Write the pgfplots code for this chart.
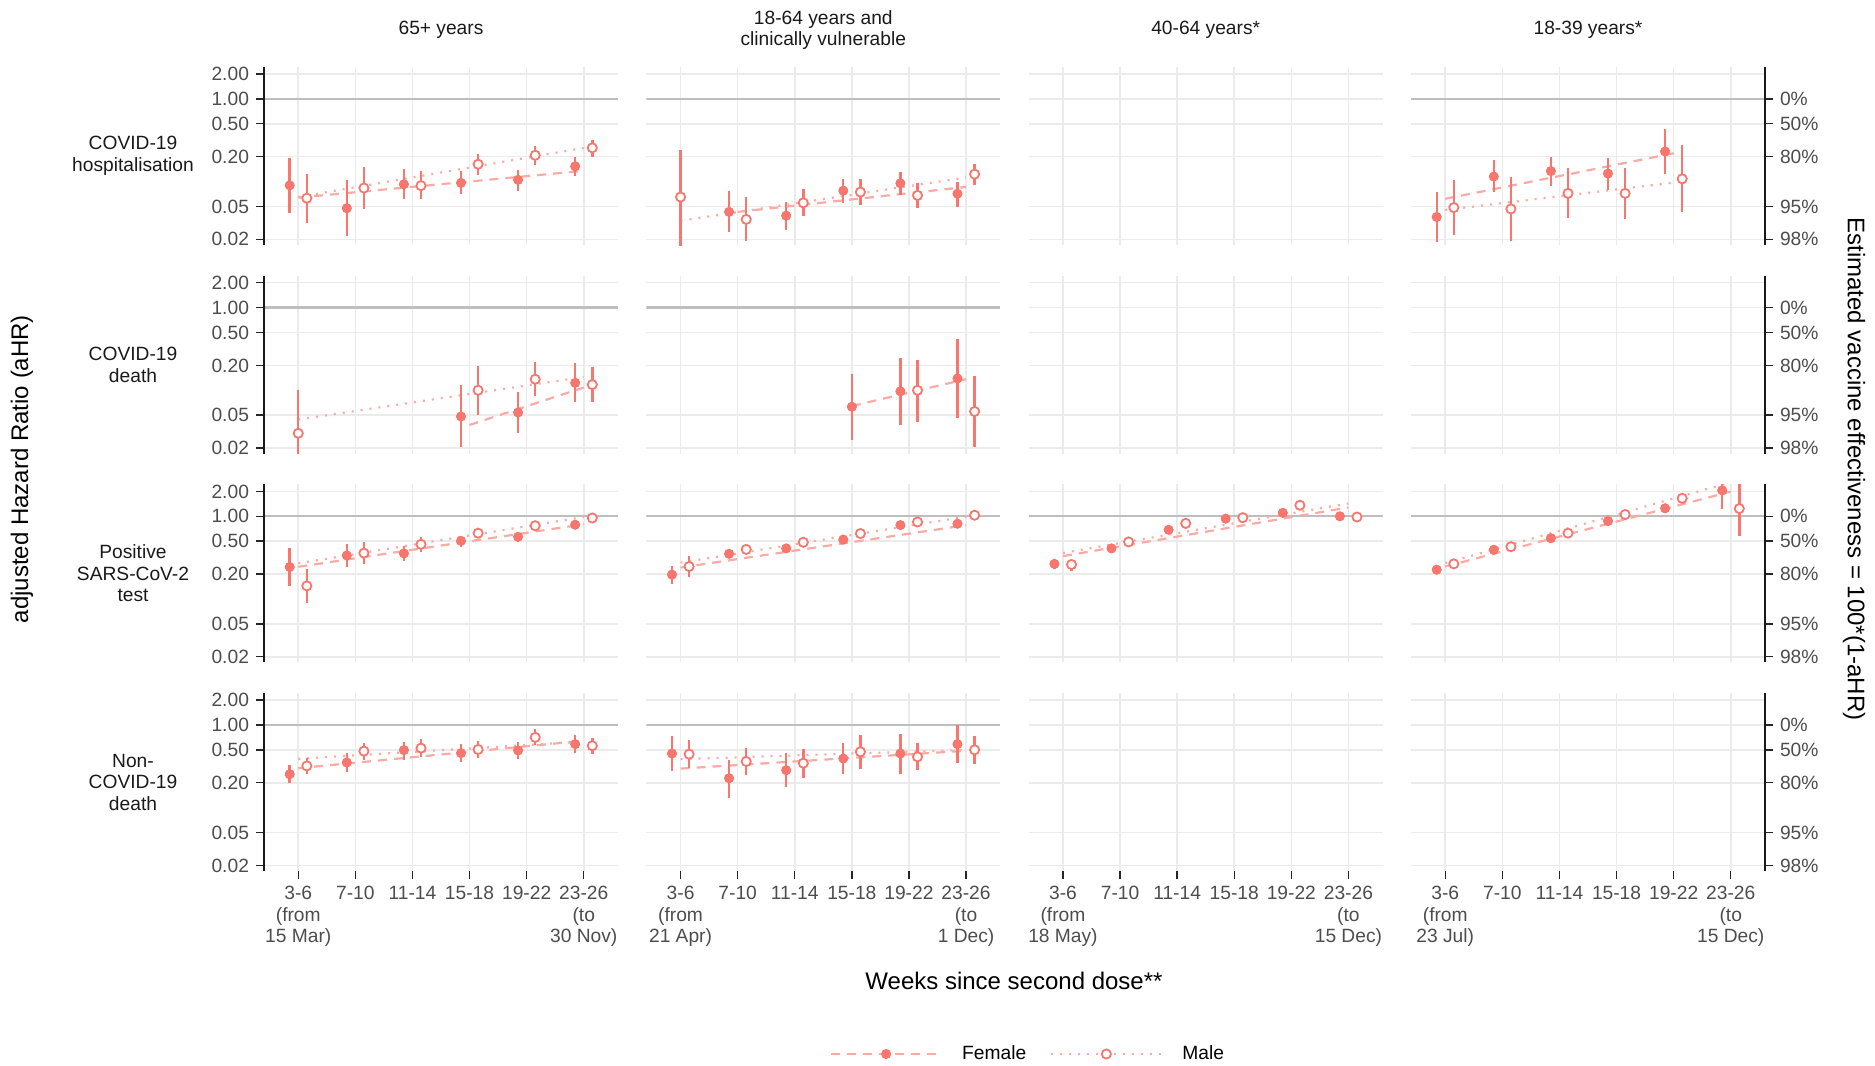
\documentclass[border=0pt]{standalone}
\usepackage{fontspec}
\setmainfont{Liberation Sans}
\usepackage{pgfplots}
\pgfplotsset{compat=1.18}
\usepackage{pgfplotstable}

\definecolor{ptc}{HTML}{F8766D}
\definecolor{gridc}{HTML}{EBEBEB}
\definecolor{hlc}{HTML}{BEBEBE}
\definecolor{tickc}{HTML}{4D4D4D}
\definecolor{stripc}{HTML}{1A1A1A}
\colorlet{trc}{ptc!62!white}

\newcommand{\fsmall}{\fontsize{9.6}{10.8}\selectfont}
\newcommand{\flarge}{\fontsize{12}{14}\selectfont}

\tikzset{
  trF/.style={trc, line width=1.1pt, dash pattern=on 4.5pt off 3.5pt},
  trM/.style={trc, line width=1.1pt, dash pattern=on 1pt off 3.5pt},
  hrline/.style={hlc, line width=1.1pt},
}

% the y axis is log10(aHR) on a linear scale
\pgfplotsset{
  panel/.style={
    scale only axis, width=177pt, height=89pt, anchor=north west,
    xmin=0.4, xmax=6.6, ymin=-1.767, ymax=0.3856,
    xtick={1,...,6}, ytick={-1.69897,-1.30103,-0.69897,-0.30103,0,0.30103},
    xticklabels={}, yticklabels={},
    grid=major, major grid style={line width=0.8pt, draw=gridc},
    axis line style={draw=none},
    xtick pos=bottom, ytick pos=left,
    major x tick style={draw=none}, major y tick style={draw=none},
    tick align=outside, major tick length=4pt,
    tick label style={font=\fsmall, text=tickc},
  },
  leftcol/.style={
    yticklabels={0.02,0.05,0.20,0.50,1.00,2.00},
    major y tick style={draw=black!85, line width=0.7pt},
    after end axis/.append code={\draw[black!90, line width=1.1pt] (rel axis cs:0,0) -- (rel axis cs:0,1);},
  },
  rightcol/.style={
    ytick={-1.69897,-1.30103,-0.69897,-0.30103,0},
    yticklabels={98\%,95\%,80\%,50\%,0\%},
    ytick pos=right, yticklabel pos=right,
    major y tick style={draw=black!85, line width=0.7pt},
    after end axis/.append code={\draw[black!90, line width=1.1pt] (rel axis cs:1,0) -- (rel axis cs:1,1);},
  },
  bottomrow/.style={
    major x tick style={draw=black!85, line width=0.7pt},
    xticklabel style={align=center},
  },
  fpt/.style={mark options={draw=ptc, fill=ptc}},
  mpt/.style={mark options={draw=ptc, fill=white, line width=0.9pt}},
}

\newcommand{\ser}[2]{%
  \addplot[only marks, mark=none, forget plot,
    error bars/.cd, y dir=both, y explicit, error mark=none,
    error bar style={ptc, line width=1.2pt}]
    table[x=x, y expr=log10(\thisrow{y}),
      y error plus expr=log10(\thisrow{hi})-log10(\thisrow{y}),
      y error minus expr=log10(\thisrow{y})-log10(\thisrow{lo})] {#2};
  \addplot[only marks, mark=*, mark size=2.3pt, forget plot, #1]
    table[x=x, y expr=log10(\thisrow{y})] {#2};}
\newcommand{\trend}[5]{\addplot[#1, forget plot]
  table[x=x, y expr=log10(\thisrow{y}), row sep=\\] {x y\\ #2 #3\\ #4 #5\\};}
\newcommand{\oneline}{\addplot[hrline, forget plot] coordinates {(0.4,0) (6.6,0)};}
\newcommand{\topgrid}{\addplot[gridc, line width=0.8pt, forget plot] coordinates {(0.4,0.30103) (6.6,0.30103)};}
\newcommand{\empt}{\addplot[draw=none, forget plot] coordinates {(1,0)};}

% ---- COVID-19 hospitalisation ----
\pgfplotstableread{
x y lo hi
0.85 0.090 0.0417 0.193
1.85 0.0476 0.0218 0.105
2.85 0.0927 0.0608 0.143
3.85 0.0964 0.070 0.135
4.85 0.105 0.0769 0.138
5.85 0.153 0.116 0.199
}\hFa
\pgfplotstableread{
x y lo hi
1.15 0.063 0.032 0.123
2.15 0.0836 0.0463 0.150
3.15 0.0893 0.0613 0.133
4.15 0.162 0.121 0.214
5.15 0.208 0.160 0.271
6.15 0.256 0.200 0.321
}\hMa
\pgfplotstableread{
x y lo hi
1.85 0.043 0.0244 0.076
2.85 0.0387 0.0258 0.0574
3.85 0.0776 0.0553 0.107
4.85 0.0954 0.068 0.130
5.85 0.0713 0.0499 0.100
}\hFb
\pgfplotstableread{
x y lo hi
1.00 0.065 0.015 0.244
2.15 0.0349 0.0191 0.065
3.15 0.0553 0.038 0.0813
4.15 0.0747 0.0518 0.107
5.15 0.068 0.048 0.0954
6.15 0.123 0.091 0.163
}\hMb
\pgfplotstableread{
x y lo hi
0.85 0.0373 0.0184 0.0754
1.85 0.115 0.0747 0.181
2.85 0.134 0.0877 0.197
3.85 0.125 0.0798 0.195
4.85 0.231 0.122 0.429
}\hFd
\pgfplotstableread{
x y lo hi
1.15 0.0485 0.0226 0.105
2.15 0.0467 0.0193 0.113
3.15 0.072 0.0362 0.144
4.15 0.072 0.0356 0.144
5.15 0.108 0.043 0.276
}\hMd

% ---- COVID-19 death ----
\pgfplotstableread{
x y lo hi
3.85 0.0482 0.0207 0.116
4.85 0.0539 0.0305 0.0954
5.85 0.123 0.0714 0.216
}\dFa
\pgfplotstableread{
x y lo hi
1.00 0.0302 0.015 0.101
4.15 0.100 0.0505 0.198
5.15 0.136 0.0845 0.220
6.15 0.117 0.0727 0.191
}\dMa
\pgfplotstableread{
x y lo hi
4.00 0.0632 0.0253 0.157
4.85 0.0972 0.0378 0.245
5.85 0.139 0.0456 0.419
}\dFb
\pgfplotstableread{
x y lo hi
5.15 0.100 0.0411 0.234
6.15 0.0554 0.0207 0.150
}\dMb

% ---- Positive SARS-CoV-2 test ----
\pgfplotstableread{
x y lo hi
0.85 0.244 0.143 0.417
1.85 0.336 0.242 0.467
2.85 0.356 0.292 0.433
3.85 0.504 0.425 0.585
4.85 0.564 0.499 0.631
5.85 0.791 0.700 0.885
}\pFa
\pgfplotstableread{
x y lo hi
1.15 0.144 0.090 0.229
2.15 0.359 0.263 0.485
3.15 0.458 0.369 0.558
4.15 0.625 0.553 0.706
5.15 0.769 0.680 0.869
6.15 0.954 0.860 1.050
}\pMa
\pgfplotstableread{
x y lo hi
0.85 0.197 0.153 0.251
1.85 0.352 0.315 0.394
2.85 0.409 0.366 0.458
3.85 0.523 0.476 0.574
4.85 0.783 0.713 0.860
5.85 0.813 0.747 0.885
}\pFb
\pgfplotstableread{
x y lo hi
1.15 0.247 0.186 0.327
2.15 0.398 0.352 0.450
3.15 0.485 0.429 0.548
4.15 0.619 0.553 0.693
5.15 0.853 0.769 0.945
6.15 1.030 0.930 1.130
}\pMb
\pgfplotstableread{
x y lo hi
0.85 0.266 0.233 0.298
1.85 0.409 0.373 0.450
2.85 0.687 0.625 0.754
3.85 0.936 0.860 1.010
4.85 1.100 1.010 1.200
5.85 1.000 0.900 1.110
}\pFc
\pgfplotstableread{
x y lo hi
1.15 0.261 0.220 0.298
2.15 0.490 0.450 0.533
3.15 0.821 0.740 0.910
4.15 0.963 0.877 1.050
5.15 1.360 1.230 1.500
6.15 0.980 0.885 1.090
}\pMc
\pgfplotstableread{
x y lo hi
0.85 0.226 0.208 0.247
1.85 0.394 0.360 0.430
2.85 0.543 0.495 0.595
3.85 0.877 0.800 0.960
4.85 1.250 1.140 1.370
5.85 2.060 1.210 2.530
}\pFd
\pgfplotstableread{
x y lo hi
1.15 0.266 0.243 0.291
2.15 0.429 0.390 0.470
3.15 0.625 0.570 0.685
4.15 1.050 0.960 1.150
5.15 1.650 1.500 1.810
6.15 1.240 0.585 3.000
}\pMd

% ---- Non-COVID-19 death ----
\pgfplotstableread{
x y lo hi
0.85 0.254 0.197 0.326
1.85 0.352 0.273 0.457
2.85 0.497 0.382 0.627
3.85 0.457 0.355 0.587
4.85 0.492 0.389 0.627
5.85 0.587 0.457 0.749
}\nFa
\pgfplotstableread{
x y lo hi
1.15 0.320 0.256 0.397
2.15 0.483 0.382 0.610
3.15 0.525 0.408 0.676
4.15 0.506 0.401 0.633
5.15 0.708 0.566 0.894
6.15 0.561 0.449 0.695
}\nMa
\pgfplotstableread{
x y lo hi
0.85 0.452 0.276 0.735
1.85 0.227 0.132 0.379
2.85 0.284 0.178 0.457
3.85 0.393 0.256 0.610
4.85 0.452 0.254 0.777
5.85 0.587 0.345 1.000
}\nFb
\pgfplotstableread{
x y lo hi
1.15 0.444 0.300 0.651
2.15 0.362 0.247 0.530
3.15 0.345 0.229 0.515
4.15 0.474 0.297 0.756
5.15 0.412 0.284 0.604
6.15 0.501 0.339 0.735
}\nMb

\begin{document}
\begin{tikzpicture}
\path[use as bounding box] (0,0) rectangle (937.5pt,-533pt);

% column strips and row labels
\begin{scope}[every node/.style={font=\fsmall, text=stripc, align=center}]
\node at (220.5pt,-15pt) {65+ years};
\node at (411.65pt,-15pt) {18-64 years and\\clinically vulnerable};
\node at (602.85pt,-15pt) {40-64 years*};
\node at (794pt,-15pt) {18-39 years*};
\node at (66.5pt,-78pt) {COVID-19\\hospitalisation};
\node at (66.5pt,-182.35pt) {COVID-19\\death};
\node at (66.5pt,-286.7pt) {Positive\\SARS-CoV-2\\test};
\node at (66.5pt,-391.05pt) {Non-\\COVID-19\\death};
\end{scope}

% axis titles
\node[font=\flarge] at (507pt,-490.5pt) {Weeks since second dose**};
\node[font=\flarge, rotate=90] at (11pt,-234.5pt) {adjusted Hazard Ratio (aHR)};
\node[font=\flarge, rotate=-90] at (927pt,-234.5pt) {Estimated vaccine effectiveness = 100*(1-aHR)};

% ===== row 1: COVID-19 hospitalisation =====
\begin{axis}[panel, leftcol, at={(132pt,-33.5pt)}]
\oneline
\trend{trF}{1}{0.064}{6}{0.135}
\trend{trM}{1}{0.065}{6}{0.255}
\ser{fpt}{\hFa} \ser{mpt}{\hMa}
\end{axis}
\begin{axis}[panel, at={(323.15pt,-33.5pt)}]
\oneline
\trend{trF}{2}{0.043}{6}{0.086}
\trend{trM}{1}{0.0336}{6}{0.112}
\ser{fpt}{\hFb} \ser{mpt}{\hMb}
\end{axis}
\begin{axis}[panel, at={(514.35pt,-33.5pt)}]
\empt
\end{axis}
\begin{axis}[panel, rightcol, at={(705.5pt,-33.5pt)}]
\topgrid
\oneline
\trend{trF}{1}{0.0619}{5}{0.220}
\trend{trM}{1}{0.0454}{5}{0.0972}
\ser{fpt}{\hFd} \ser{mpt}{\hMd}
\end{axis}

% ===== row 2: COVID-19 death =====
\begin{axis}[panel, leftcol, at={(132pt,-137.85pt)}]
\oneline
\trend{trF}{4}{0.0381}{6}{0.108}
\trend{trM}{1}{0.0443}{6}{0.145}
\ser{fpt}{\dFa} \ser{mpt}{\dMa}
\end{axis}
\begin{axis}[panel, at={(323.15pt,-137.85pt)}]
\oneline
\trend{trF}{4}{0.0645}{6}{0.136}
\ser{fpt}{\dFb} \ser{mpt}{\dMb}
\end{axis}
\begin{axis}[panel, at={(514.35pt,-137.85pt)}]
\empt
\end{axis}
\begin{axis}[panel, rightcol, at={(705.5pt,-137.85pt)}]
\topgrid
\empt
\end{axis}

% ===== row 3: Positive SARS-CoV-2 test =====
\begin{axis}[panel, leftcol, at={(132pt,-242.2pt)}]
\oneline
\trend{trF}{1}{0.245}{6}{0.80}
\trend{trM}{1}{0.27}{6}{0.98}
\ser{fpt}{\pFa} \ser{mpt}{\pMa}
\end{axis}
\begin{axis}[panel, at={(323.15pt,-242.2pt)}]
\oneline
\trend{trF}{1}{0.24}{6}{0.78}
\trend{trM}{1}{0.275}{6}{0.99}
\ser{fpt}{\pFb} \ser{mpt}{\pMb}
\end{axis}
\begin{axis}[panel, at={(514.35pt,-242.2pt)}]
\oneline
\trend{trF}{1}{0.33}{6}{1.28}
\trend{trM}{1}{0.36}{6}{1.43}
\ser{fpt}{\pFc} \ser{mpt}{\pMc}
\end{axis}
\begin{axis}[panel, rightcol, at={(705.5pt,-242.2pt)}]
\topgrid
\oneline
\trend{trF}{1}{0.247}{6}{1.99}
\trend{trM}{1}{0.271}{6}{2.58}
\ser{fpt}{\pFd} \ser{mpt}{\pMd}
\end{axis}

% ===== row 4: Non-COVID-19 death =====
\begin{axis}[panel, leftcol, bottomrow, at={(132pt,-346.55pt)},
  xticklabels={{3-6\\(from\\15 Mar)},7-10,11-14,15-18,19-22,{23-26\\(to\\30 Nov)}}]
\oneline
\trend{trF}{1}{0.30}{6}{0.645}
\trend{trM}{1}{0.39}{6}{0.63}
\ser{fpt}{\nFa} \ser{mpt}{\nMa}
\end{axis}
\begin{axis}[panel, bottomrow, at={(323.15pt,-346.55pt)},
  xticklabels={{3-6\\(from\\21 Apr)},7-10,11-14,15-18,19-22,{23-26\\(to\\1 Dec)}}]
\oneline
\trend{trF}{1}{0.297}{6}{0.488}
\trend{trM}{1}{0.386}{6}{0.50}
\ser{fpt}{\nFb} \ser{mpt}{\nMb}
\end{axis}
\begin{axis}[panel, bottomrow, at={(514.35pt,-346.55pt)},
  xticklabels={{3-6\\(from\\18 May)},7-10,11-14,15-18,19-22,{23-26\\(to\\15 Dec)}},
  legend style={at={(0.001,-1.0275)}, anchor=center, draw=none, fill=none,
    font=\fsmall, legend columns=2,
    /tikz/every odd column/.append style={column sep=8pt},
    /tikz/every even column/.append style={column sep=10pt}},
  legend cell align=left]
\empt
\addlegendimage{legend image code/.code={
  \draw[trF] (0pt,0pt) -- (55pt,0pt);
  \draw[ptc, fill=ptc] (27.5pt,0pt) circle[radius=2.3pt];}}
\addlegendentry{Female}
\addlegendimage{legend image code/.code={
  \draw[trM] (0pt,0pt) -- (55pt,0pt);
  \draw[ptc, fill=white, line width=0.9pt] (27.5pt,0pt) circle[radius=2.3pt];}}
\addlegendentry{Male}
\end{axis}
\begin{axis}[panel, rightcol, bottomrow, at={(705.5pt,-346.55pt)},
  xticklabels={{3-6\\(from\\23 Jul)},7-10,11-14,15-18,19-22,{23-26\\(to\\15 Dec)}}]
\topgrid
\empt
\end{axis}

\end{tikzpicture}
\end{document}
